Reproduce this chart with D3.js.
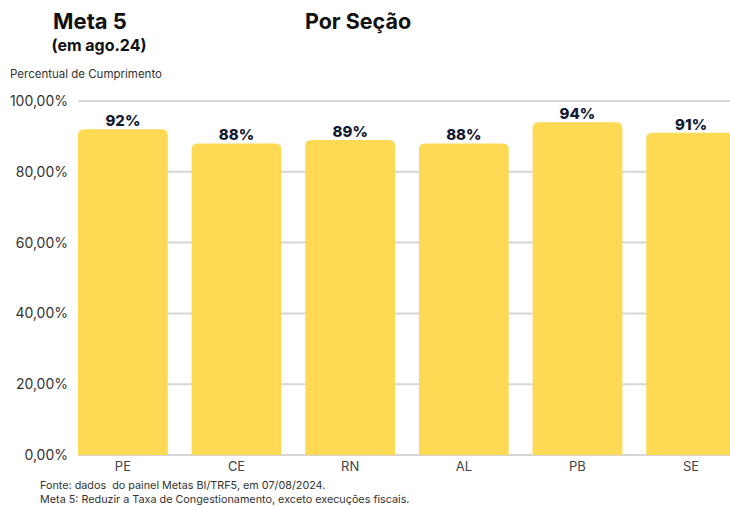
<!DOCTYPE html>
<html>
<head>
<meta charset="utf-8">
<script src="https://cdn.jsdelivr.net/npm/d3@7"></script>
<style>
  body { margin: 0; background: #fff; }
  svg { display: block; font-family: "Inter", "Open Sans", sans-serif; }
</style>
</head>
<body>
<div id="chart"></div>
<script>
// Chart data
const secoes = ['PE', 'CE', 'RN', 'AL', 'PB', 'SE'];
const cumprimento = [0.92, 0.88, 0.89, 0.88, 0.94, 0.91];
const yTicks = [0, 0.2, 0.4, 0.6, 0.8, 1.0];

const width = 730;
const height = 506;

const plot = { left: 78, right: 736, top: 101, bottom: 455 };

const svg = d3.select('#chart')
  .append('svg')
  .attr('width', width)
  .attr('height', height);

const xScale = d3.scaleBand()
  .domain(secoes)
  .range([plot.left, plot.right])
  .paddingInner(0.21)
  .paddingOuter(0);

const yScale = d3.scaleLinear()
  .domain([0, 1])
  .range([plot.bottom, plot.top]);

// Gridlines
svg.append('g')
  .attr('class', 'gridlines')
  .selectAll('line')
  .data(yTicks)
  .join('line')
  .attr('x1', plot.left)
  .attr('x2', width)
  .attr('y1', d => yScale(d))
  .attr('y2', d => yScale(d))
  .attr('stroke', '#d6d6d6')
  .attr('stroke-width', 2);

// Y axis labels
const fmt = d => d3.format('.2f')(d * 100).replace('.', ',') + '%';
const yAxis = d3.axisLeft(yScale).tickValues(yTicks).tickFormat(fmt).tickSize(0).tickPadding(10);
svg.append('g')
  .attr('transform', `translate(${plot.left}, 0)`)
  .call(yAxis)
  .call(g => g.select('.domain').remove())
  .call(g => g.selectAll('text')
    .attr('font-size', 14)
    .attr('fill', '#333')
    .attr('font-family', '"Inter", "Open Sans", sans-serif'));

// Bars with rounded top corners
const r = 6;
function barPath(x, y, w, h) {
  return `M${x},${y + h} V${y + r} Q${x},${y} ${x + r},${y} H${x + w - r} Q${x + w},${y} ${x + w},${y + r} V${y + h} Z`;
}

svg.append('g')
  .selectAll('path')
  .data(secoes)
  .join('path')
  .attr('d', (d, i) => {
    const x = xScale(d);
    const y = yScale(cumprimento[i]);
    return barPath(x, y, xScale.bandwidth(), plot.bottom - y);
  })
  .attr('fill', '#FED953');

// Value labels
svg.append('g')
  .selectAll('text')
  .data(secoes)
  .join('text')
  .attr('x', d => xScale(d) + xScale.bandwidth() / 2)
  .attr('y', (d, i) => yScale(cumprimento[i]) - 3)
  .attr('text-anchor', 'middle')
  .attr('font-size', 15)
  .attr('font-weight', 800)
  .attr('fill', '#141a33')
  .text((d, i) => Math.round(cumprimento[i] * 100) + '%');

// X axis labels
const xAxis = d3.axisBottom(xScale).tickSize(0).tickPadding(7);
svg.append('g')
  .attr('transform', `translate(0, ${plot.bottom})`)
  .call(xAxis)
  .call(g => g.select('.domain').remove())
  .call(g => g.selectAll('text')
    .attr('font-size', 13)
    .attr('fill', '#444')
    .attr('font-family', '"Inter", "Open Sans", sans-serif'));

// Titles
svg.append('text').attr('x', 90).attr('y', 29).attr('text-anchor', 'middle')
  .attr('font-size', 22).attr('font-weight', 700).attr('fill', '#111').text('Meta 5');
svg.append('text').attr('x', 99).attr('y', 51).attr('text-anchor', 'middle')
  .attr('font-size', 16).attr('font-weight', 700).attr('fill', '#111').text('(em ago.24)');
svg.append('text').attr('x', 358).attr('y', 29).attr('text-anchor', 'middle')
  .attr('font-size', 21.5).attr('font-weight', 700).attr('fill', '#111').text('Por Seção');
svg.append('text').attr('x', 10).attr('y', 78)
  .attr('font-size', 11.5).attr('fill', '#333').text('Percentual de Cumprimento');

// Footer notes
svg.append('text').attr('x', 40).attr('y', 489).style('white-space', 'pre')
  .attr('font-size', 10.8).attr('fill', '#333').text('Fonte: dados  do painel Metas BI/TRF5, em 07/08/2024.');
svg.append('text').attr('x', 40).attr('y', 503)
  .attr('font-size', 10.8).attr('fill', '#333').text('Meta 5: Reduzir a Taxa de Congestionamento, exceto execuções fiscais.');
</script>
</body>
</html>
